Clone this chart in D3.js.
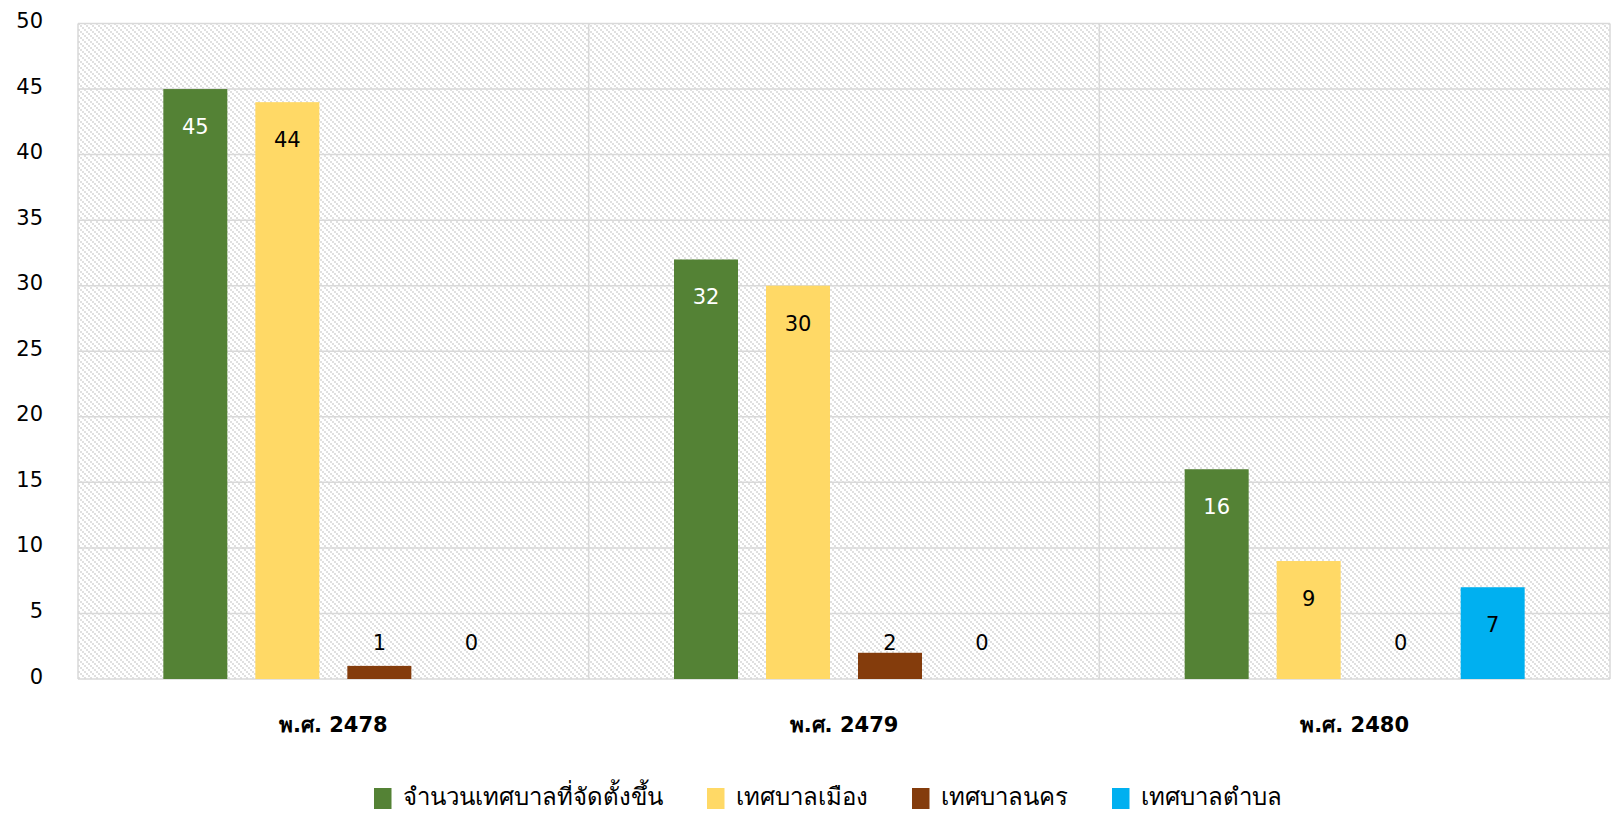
<!DOCTYPE html>
<html>
<head>
<meta charset="utf-8">
<script src="https://cdn.jsdelivr.net/npm/d3@7"></script>
<style>
  html, body { margin: 0; padding: 0; background: #fff; }
  svg { display: block; }
  text { font-family: Tahoma, "DejaVu Sans", "Noto Sans", sans-serif; }
</style>
</head>
<body>
<svg id="chart" width="1612" height="815"></svg>
<script>
const categories = ["พ.ศ. 2478", "พ.ศ. 2479", "พ.ศ. 2480"];
const seriesNames = ["จำนวนเทศบาลที่จัดตั้งขึ้น", "เทศบาลเมือง", "เทศบาลนคร", "เทศบาลตำบล"];
const seriesColors = ["#548235", "#FFD966", "#843C0C", "#00B0F0"];
const labelColors = ["#ffffff", "#000000", "#000000", "#000000"];
const totalValues = [45, 32, 16];
const muangValues = [44, 30, 9];
const nakhonValues = [1, 2, 0];
const tambonValues = [0, 0, 7];
const yTicks = [0, 5, 10, 15, 20, 25, 30, 35, 40, 45, 50];

const seriesValues = [totalValues, muangValues, nakhonValues, tambonValues];

const svg = d3.select("#chart");
const W = 1612, H = 815;
const margin = { left: 78, right: 2, top: 23.5, bottom: 136 };
const plotW = W - margin.left - margin.right;
const plotH = H - margin.top - margin.bottom;

const defs = svg.append("defs");
const pat = defs.append("pattern")
  .attr("id", "hatch")
  .attr("patternUnits", "userSpaceOnUse")
  .attr("width", 6).attr("height", 6)
  .attr("x", margin.left).attr("y", margin.top);
pat.append("rect").attr("width", 6).attr("height", 6).attr("fill", "#ffffff");
[[0,0],[2,2],[4,4]].forEach(([px,py]) => {
  pat.append("rect").attr("x", px).attr("y", py).attr("width", 2).attr("height", 2)
    .attr("fill", "#e0e0e0").attr("shape-rendering", "crispEdges");
});

const g = svg.append("g").attr("transform", `translate(${margin.left},${margin.top})`);

const x0 = d3.scaleBand().domain(categories).range([0, plotW]).paddingInner(0).paddingOuter(0);
const bandW = x0.bandwidth();
const pIn = 28 / 92;
const stepTarget = 92;
const pOut = ((bandW / stepTarget) - (seriesNames.length - pIn)) / 2;
const x1 = d3.scaleBand().domain(d3.range(seriesNames.length)).range([0, bandW])
  .paddingInner(pIn).paddingOuter(pOut);
const y = d3.scaleLinear().domain([0, 50]).range([plotH, 0]);

// background hatch
g.append("rect").attr("x", 0).attr("y", 0).attr("width", plotW).attr("height", plotH)
  .attr("fill", "url(#hatch)");

// horizontal gridlines
g.append("g").selectAll("line").data(yTicks).join("line")
  .attr("x1", 0).attr("x2", plotW)
  .attr("y1", d => y(d)).attr("y2", d => y(d))
  .attr("stroke", "#d9d9d9").attr("stroke-width", 1.5);

// vertical category separators and borders
const vlines = [0].concat(categories.map(c => x0(c) + bandW));
g.append("g").selectAll("line").data(vlines).join("line")
  .attr("x1", d => d).attr("x2", d => d)
  .attr("y1", 0).attr("y2", plotH)
  .attr("stroke", "#d9d9d9").attr("stroke-width", 1.5);

// y axis labels
const yAxis = d3.axisLeft(y).tickValues(yTicks).tickSize(0).tickPadding(0);
const yAxisG = g.append("g").attr("transform", "translate(-35,0)").call(yAxis);
yAxisG.select(".domain").remove();
yAxisG.selectAll("text")
  .attr("font-size", 21).attr("fill", "#000")
  .attr("font-family", "Tahoma, 'DejaVu Sans', sans-serif")
  .attr("dy", "0.0em").attr("dominant-baseline", "central")
  .attr("transform", "translate(0,-3)");

// x axis labels
const xAxis = d3.axisBottom(x0).tickSize(0).tickPadding(0);
const xAxisG = g.append("g").attr("transform", `translate(0,${plotH + 46})`).call(xAxis);
xAxisG.select(".domain").remove();
xAxisG.selectAll("text")
  .attr("font-size", 21).attr("font-weight", "bold").attr("fill", "#000")
  .attr("font-family", "Tahoma, 'DejaVu Sans', sans-serif")
  .attr("dy", 0).attr("dominant-baseline", "central");

// bars
const data = [];
categories.forEach((c, ci) => {
  seriesValues.forEach((vals, si) => {
    data.push({ cat: c, si, v: vals[ci] });
  });
});

const groups = g.append("g");
groups.selectAll("rect").data(data.filter(d => d.v > 0)).join("rect")
  .attr("x", d => x0(d.cat) + x1(d.si))
  .attr("width", x1.bandwidth())
  .attr("y", d => y(d.v))
  .attr("height", d => y(0) - y(d.v))
  .attr("fill", d => seriesColors[d.si]);

// data labels
const inside = d => d.v > 0 && y(d.v) + 38 <= y(0) - 36;
groups.selectAll("text").data(data).join("text")
  .attr("x", d => x0(d.cat) + x1(d.si) + x1.bandwidth() / 2)
  .attr("y", d => Math.min(y(d.v) + 38, y(0) - 36))
  .attr("text-anchor", "middle")
  .attr("dominant-baseline", "central")
  .attr("font-size", 21)
  .attr("fill", d => inside(d) ? labelColors[d.si] : "#000")
  .text(d => d.v);

// legend
const legend = svg.append("g");
const items = legend.selectAll("g").data(seriesNames).join("g");
items.append("rect").attr("width", 17.5).attr("height", 21).attr("y", -17)
  .attr("fill", (d, i) => seriesColors[i]);
items.append("text").attr("x", 29).attr("y", 0)
  .attr("font-size", 24).attr("fill", "#000")
  .text(d => d);
let widths = [];
items.each(function() {
  widths.push(29 + d3.select(this).select("text").node().getComputedTextLength());
});
const gap = 44;
const total = d3.sum(widths) + gap * (widths.length - 1);
let cx = 828 - total / 2;
items.each(function(d, i) {
  d3.select(this).attr("transform", `translate(${cx},805)`);
  cx += widths[i] + gap;
});
</script>
</body>
</html>
